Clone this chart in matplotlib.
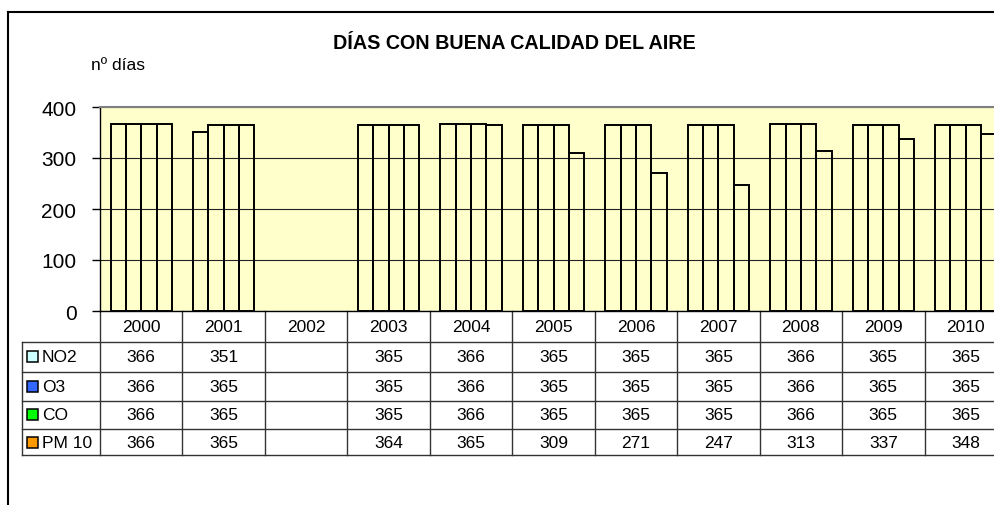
import numpy as np
import matplotlib.pyplot as plt
from matplotlib.transforms import blended_transform_factory
from matplotlib.patches import Rectangle
from matplotlib.lines import Line2D

plt.rcParams['font.family'] = ['Liberation Sans', 'DejaVu Sans']

years = ['2000', '2001', '2002', '2003', '2004', '2005', '2006', '2007', '2008', '2009', '2010']
series = ['NO2', 'O3', 'CO', 'PM10']
series_labels = ['NO2', 'O3', 'CO', 'PM 10']
legend_colors = ['#CCFFFF', '#3366FF', '#00FF00', '#FF9900']

# 2002 sin datos
no2 = [366, 351, None, 365, 366, 365, 365, 365, 366, 365, 365]
o3 = [366, 365, None, 365, 366, 365, 365, 365, 366, 365, 365]
co = [366, 365, None, 365, 366, 365, 365, 365, 366, 365, 365]
pm10 = [366, 365, None, 364, 365, 309, 271, 247, 313, 337, 348]
values = [no2, o3, co, pm10]

W, H = 995, 506
fig = plt.figure(figsize=(W / 100, H / 100), dpi=100)

def fx(p):
    return p / W

def fy(p):
    return 1 - p / H

# area de grafico (se sale por la derecha como en el original)
ax_left, ax_right, ax_top, ax_bottom = 100, 1007, 108, 312
ax = fig.add_axes([fx(ax_left), fy(ax_bottom), fx(ax_right - ax_left), (ax_bottom - ax_top) / H])
ax.set_facecolor('#FFFFCC')

x = np.arange(len(years))
bw = 0.186
for i, vals in enumerate(values):
    v = np.array([np.nan if a is None else a for a in vals], dtype=float)
    ax.bar(x + (i - 1.5) * bw, v, width=bw, facecolor='none', edgecolor='black', linewidth=1.4, zorder=3)

ax.set_xlim(-0.5, len(years) - 0.5)
ax.set_ylim(0, 400)
ax.set_yticks([0, 100, 200, 300, 400])
ax.tick_params(axis='y', labelsize=15, length=6, width=1, direction='out', pad=11)
ax.set_xticks([])
ax.yaxis.grid(True, color='#222222', linewidth=0.8)
ax.set_axisbelow(True)
ax.spines['right'].set_visible(False)
ax.spines['top'].set_color('#808080')
ax.spines['top'].set_linewidth(1.5)
ax.spines['left'].set_linewidth(1)
ax.spines['bottom'].set_linewidth(1)

# titulo y unidad
fig.text(fx(514), fy(44), 'DÍAS CON BUENA CALIDAD DEL AIRE', ha='center', va='center',
         fontsize=14.2, fontweight='bold')
fig.text(fx(91), fy(65), 'nº días', ha='left', va='center', fontsize=12.5)

# tabla de datos
tr = blended_transform_factory(ax.transData, fig.transFigure)
rows_px = [312, 342.5, 372.5, 401.5, 430, 456]
lc = '#333333'
n = len(years)
for k in range(n + 1):
    xx = k - 0.5
    ax.add_line(Line2D([xx, xx], [fy(312), fy(456)], transform=tr, color=lc, lw=1, clip_on=False))
for rp in rows_px[1:]:
    fig.add_artist(Line2D([fx(22), 1.0], [fy(rp), fy(rp)], color=lc, lw=1))
fig.add_artist(Line2D([fx(22), fx(22)], [fy(342.5), fy(456)], color=lc, lw=1))

tsize = 12.5
for j, yr in enumerate(years):
    ax.text(j, fy((rows_px[0] + rows_px[1]) / 2), yr, transform=tr, ha='center', va='center',
            fontsize=tsize, clip_on=False)

for i, vals in enumerate(values):
    yc = fy((rows_px[i + 1] + rows_px[i + 2]) / 2)
    for j, val in enumerate(vals):
        if val is not None:
            ax.text(j, yc, str(val), transform=tr, ha='center', va='center', fontsize=tsize, clip_on=False)
    sq = 11
    fig.add_artist(Rectangle((fx(27), yc - sq / 2 / H), sq / W, sq / H, facecolor=legend_colors[i],
                             edgecolor='black', linewidth=1.1))
    fig.text(fx(42), yc, series_labels[i], ha='left', va='center', fontsize=tsize)

# marco exterior
fig.add_artist(Line2D([fx(8), fx(8)], [fy(13), 0], color='black', lw=1.5))
fig.add_artist(Line2D([fx(8), 1.0], [fy(13), fy(13)], color='black', lw=1.5))

fig.savefig('out.png', dpi=100)
